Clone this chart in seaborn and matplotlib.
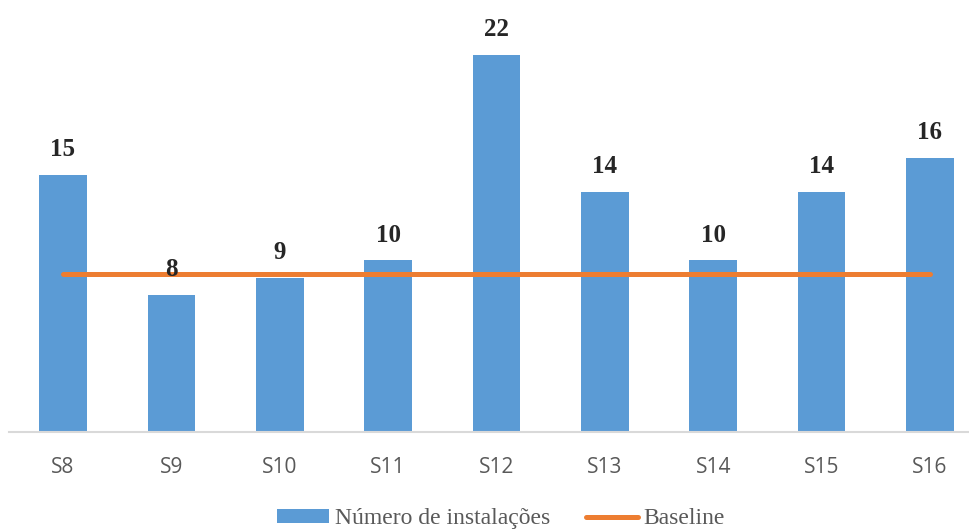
import matplotlib
matplotlib.use("Agg")
import matplotlib.pyplot as plt
import seaborn as sns
import pandas as pd
from matplotlib.patches import Patch
from matplotlib.lines import Line2D

categories = ["S8", "S9", "S10", "S11", "S12", "S13", "S14", "S15", "S16"]
installs = [15, 8, 9, 10, 22, 14, 10, 14, 16]
baseline = [9.2, 9.2, 9.2, 9.2, 9.2, 9.2, 9.2, 9.2, 9.2]
series_names = ["Número de instalações", "Baseline"]

BLUE = "#5B9BD5"
ORANGE = "#ED7D31"

sns.set_theme(style="white")
plt.rcParams['font.family'] = ['DejaVu Sans']

df = pd.DataFrame({"cat": categories, "val": installs, "base": baseline})

fig = plt.figure(figsize=(9.69, 5.30), dpi=100)
ax = fig.add_axes([8.8 / 969, 1 - 432 / 530, 960.2 / 969, 428 / 530])

sns.barplot(data=df, x="cat", y="val", color=BLUE, width=0.44, ax=ax,
            saturation=1, edgecolor="none")
ax.plot(range(len(categories)), df["base"], color=ORANGE, lw=3.6,
        solid_capstyle="round", zorder=3)

for i, v in enumerate(installs):
    ax.annotate(str(v), (i, v), xytext=(0, 10), textcoords="offset points",
                ha="center", va="bottom", fontsize=18, fontweight="bold",
                family="Liberation Serif", color="#262626")

ax.set_xlim(-0.5, 8.36)
ax.set_ylim(0, 24.95)
ax.set_xlabel("")
ax.set_ylabel("")
ax.set_yticks([])
for s in ["top", "right", "left"]:
    ax.spines[s].set_visible(False)
ax.spines["bottom"].set_color("#D9D9D9")
ax.spines["bottom"].set_linewidth(1.5)
ax.tick_params(axis="x", length=0, pad=18, labelsize=15, labelcolor="#595959")
for lbl in ax.get_xticklabels():
    lbl.set_family("Open Sans")

handles = [Patch(facecolor=BLUE, edgecolor="none"),
           Line2D([0], [0], color=ORANGE, lw=3.6, solid_capstyle="round")]
fig.legend(handles, series_names, loc="center", bbox_to_anchor=(0.517, 0.021),
           ncol=2, frameon=False, handlelength=2.2, handleheight=0.5,
           handletextpad=0.25, columnspacing=1.5,
           prop={"family": "Liberation Serif", "size": 17},
           labelcolor="#595959")

fig.savefig("out.png", dpi=100)
